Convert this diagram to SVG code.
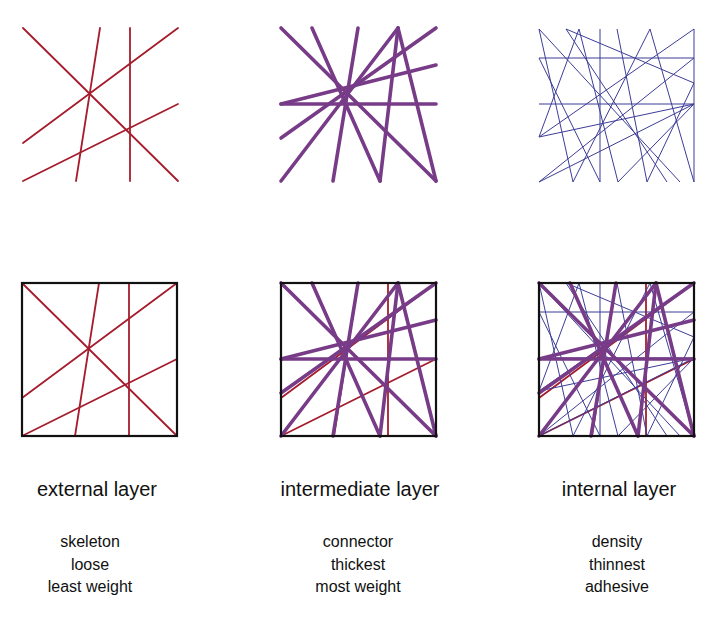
<svg xmlns="http://www.w3.org/2000/svg" width="728" height="622" viewBox="0 0 728 622">
<style>
.red{stroke:#a51d2d;stroke-width:1.8;fill:none;stroke-linecap:round}
.pur{stroke:#773b87;stroke-width:3.6;fill:none;stroke-linecap:round}
.blu{stroke:#3d3d98;stroke-width:1;fill:none}
.box{stroke:#111;stroke-width:2.2;fill:none}
.t{font-family:"Liberation Sans",Arial,sans-serif;fill:#111;text-anchor:middle}
.h{font-size:20px}
.s{font-size:16px}
</style>
<defs>
<g id="redL" class="red">
<line x1="0" y1="0" x2="155" y2="153"/>
<line x1="77" y1="0" x2="53" y2="153"/>
<line x1="107" y1="0" x2="107" y2="153"/>
<line x1="0" y1="115" x2="155" y2="0"/>
<line x1="0" y1="153" x2="155" y2="76"/>
</g>
<g id="purL" class="pur">
<line x1="0" y1="0" x2="155" y2="153"/>
<line x1="31" y1="0" x2="99" y2="153"/>
<line x1="77" y1="0" x2="52" y2="153"/>
<line x1="117" y1="0" x2="99" y2="153"/>
<line x1="117" y1="0" x2="155" y2="153"/>
<line x1="117" y1="0" x2="0" y2="153"/>
<line x1="0" y1="110" x2="155" y2="0"/>
<line x1="0" y1="76" x2="155" y2="37"/>
<line x1="0" y1="76" x2="155" y2="76"/>
</g>
<g id="bluL" class="blu">
<line x1="61" y1="0" x2="61" y2="153"/>
<line x1="155" y1="0" x2="155" y2="153"/>
<line x1="0" y1="29" x2="155" y2="29"/>
<line x1="0" y1="75" x2="155" y2="75"/>
<line x1="0" y1="0" x2="34" y2="153"/>
<line x1="0" y1="0" x2="141" y2="153"/>
<line x1="27" y1="0" x2="155" y2="54"/>
<line x1="27" y1="0" x2="128" y2="153"/>
<line x1="40" y1="0" x2="0" y2="108"/>
<line x1="40" y1="0" x2="79" y2="153"/>
<line x1="78" y1="0" x2="108" y2="153"/>
<line x1="111" y1="0" x2="34" y2="153"/>
<line x1="111" y1="0" x2="155" y2="153"/>
<line x1="155" y1="0" x2="0" y2="108"/>
<line x1="0" y1="153" x2="155" y2="75"/>
<line x1="0" y1="153" x2="155" y2="29"/>
<line x1="0" y1="29" x2="61" y2="153"/>
<line x1="155" y1="75" x2="79" y2="153"/>
<line x1="155" y1="54" x2="108" y2="153"/>
<line x1="0" y1="108" x2="155" y2="75"/>
</g>
</defs>
<g id="external-top" transform="translate(23,28)"><use href="#redL"/></g>
<g id="intermediate-top" transform="translate(281,28)"><use href="#purL"/></g>
<g id="internal-top" transform="translate(539,29)"><use href="#bluL"/></g>
<g id="external-combined" transform="translate(22,283)">
<use href="#redL"/>
<rect class="box" x="0" y="0" width="155" height="153"/>
</g>
<g id="intermediate-combined" transform="translate(281,283)">
<use href="#redL"/>
<use href="#purL"/>
<rect class="box" x="0" y="0" width="155" height="153"/>
</g>
<g id="internal-combined" transform="translate(539,283)">
<use href="#redL"/>
<use href="#bluL"/>
<use href="#purL"/>
<rect class="box" x="0" y="0" width="155" height="153"/>
</g>
<g id="label-external">
<text class="t h" x="97" y="496">external layer</text>
<text class="t s" x="90" y="547">skeleton</text>
<text class="t s" x="90" y="570">loose</text>
<text class="t s" x="90" y="592">least weight</text>
</g>
<g id="label-intermediate">
<text class="t h" x="360" y="496">intermediate layer</text>
<text class="t s" x="358" y="547">connector</text>
<text class="t s" x="358" y="570">thickest</text>
<text class="t s" x="358" y="592">most weight</text>
</g>
<g id="label-internal">
<text class="t h" x="619" y="496">internal layer</text>
<text class="t s" x="617" y="547">density</text>
<text class="t s" x="617" y="570">thinnest</text>
<text class="t s" x="617" y="592">adhesive</text>
</g>
</svg>
